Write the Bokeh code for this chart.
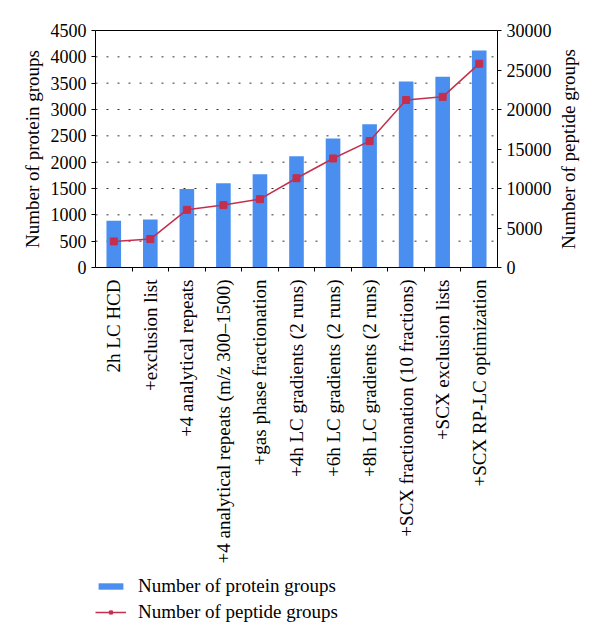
from math import pi
from bokeh.plotting import figure
from bokeh.models import (Range1d, LinearAxis, FixedTicker, Legend, LegendItem,
                          ColumnDataSource, Label)
from bokeh.embed import file_html
from bokeh.resources import INLINE

categories = [
    "2h LC HCD",
    "+exclusion list",
    "+4 analytical repeats",
    "+4 analytical repeats (m/z 300\u20131500)",
    "+gas phase fractionation",
    "+4h LC gradients (2 runs)",
    "+6h LC gradients (2 runs)",
    "+8h LC gradients (2 runs)",
    "+SCX fractionation (10 fractions)",
    "+SCX exclusion lists",
    "+SCX RP-LC optimization",
]
protein_groups = [890, 910, 1490, 1600, 1770, 2110, 2450, 2720, 3530, 3620, 4120]
peptide_groups = [3300, 3600, 7300, 7900, 8650, 11300, 13800, 16000, 21200, 21600, 25800]
protein_ticks = [0, 500, 1000, 1500, 2000, 2500, 3000, 3500, 4000, 4500]
peptide_ticks = [0, 5000, 10000, 15000, 20000, 25000, 30000]

FONT = "Liberation Serif"
BAR = "#4A8FF0"
LINE = "#C42F4E"

# ---- layout (pixels) ----
W, H = 600, 643
LEFT, RIGHT, TOP, BOTTOM = 95, 497, 30, 267   # data-area box
N = len(categories)
PMAX = protein_ticks[-1]
QMAX = peptide_ticks[-1]
px_x = (RIGHT - LEFT) / N
px_y = (BOTTOM - TOP) / PMAX
x0, x1 = 0.5, N + 0.5
x_start = x0 - LEFT / px_x
x_end = x1 + (W - RIGHT) / px_x
y_end = PMAX + TOP / px_y
y_start = -(H - BOTTOM) / px_y
scale = QMAX / PMAX

xs = list(range(1, N + 1))
src = ColumnDataSource(dict(x=xs, prot=protein_groups, pep=peptide_groups))

p = figure(frame_width=W, frame_height=H, output_backend="svg",
           toolbar_location=None,
           x_range=Range1d(x_start, x_end), y_range=Range1d(y_start, y_end),
           min_border=0, min_border_left=0, min_border_right=0,
           min_border_top=0, min_border_bottom=0)
p.extra_y_ranges = {"pep": Range1d(y_start * scale, y_end * scale)}
p.outline_line_color = None
p.xgrid.grid_line_color = None
p.ygrid.grid_line_color = None

# dotted horizontal gridlines at the inner protein ticks
inner = protein_ticks[1:-1]
p.segment(x0=[x0] * len(inner), x1=[x1] * len(inner), y0=inner, y1=inner,
          line_color="#333333", line_dash="2 9", line_width=1)

bars = p.vbar(x="x", top="prot", bottom=0, width=0.4, source=src,
              fill_color=BAR, line_color=None)
ln = p.line(x="x", y="pep", source=src, y_range_name="pep", line_color=LINE,
            line_width=1.5)
sq = p.scatter(x="x", y="pep", source=src, y_range_name="pep", marker="square",
               size=7, fill_color=LINE, line_color=LINE)

# bottom (category) axis pinned at y = 0
xa = p.xaxis[0]
xa.fixed_location = 0
xa.bounds = (x0, x1)
xa.ticker = FixedTicker(ticks=xs, minor_ticks=[i + 0.5 for i in xs[:-1]])
xa.major_label_overrides = {i: c for i, c in zip(xs, categories)}
xa.major_label_orientation = pi / 2
xa.major_tick_out = 0
xa.major_tick_in = 0
xa.minor_tick_out = 4
xa.minor_tick_in = 0
xa.minor_tick_line_color = "black"
xa.major_label_standoff = 8
xa.major_label_text_font_size = "19px"

# top border line
ta = LinearAxis(fixed_location=PMAX, bounds=(x0, x1), ticker=FixedTicker(ticks=[]))
ta.major_tick_line_color = None
ta.minor_tick_line_color = None
p.add_layout(ta, "above")

# left axis
ya = p.yaxis[0]
ya.fixed_location = x0
ya.bounds = (0, PMAX)
ya.ticker = FixedTicker(ticks=protein_ticks)
ya.minor_tick_line_color = None
ya.major_tick_out = 4
ya.major_tick_in = 0
ya.major_label_standoff = 5
ya.major_label_text_font_size = "18px"

# right axis
ra = LinearAxis(y_range_name="pep", ticker=FixedTicker(ticks=peptide_ticks),
                bounds=(0, QMAX), fixed_location=x1)
ra.minor_tick_line_color = None
ra.major_tick_out = 4
ra.major_tick_in = 0
ra.major_label_standoff = 5
ra.major_label_text_font_size = "18px"
p.add_layout(ra, "right")

for ax in (xa, ya, ra, ta):
    ax.axis_line_color = "black"
    ax.axis_line_width = 1
    ax.major_label_text_font = FONT
    ax.major_label_text_color = "black"
for ax in (xa, ya, ra):
    ax.major_tick_line_color = "black"

# axis titles, centred on the data-area height, reading upward
mid = PMAX / 2
for txt, xp in (("Number of protein groups", 32), ("Number of peptide groups", 568)):
    xd = x0 + (xp - LEFT) / px_x
    p.add_layout(Label(x=xd, y=mid, text=txt, angle=pi / 2,
                       text_align="center", text_baseline="middle",
                       text_font=FONT, text_font_size="19px",
                       text_color="black"))

legend = Legend(items=[
    LegendItem(label="Number of protein groups", renderers=[bars]),
    LegendItem(label="Number of peptide groups", renderers=[ln, sq]),
], location=(LEFT, 20), orientation="vertical")
legend.label_text_font = FONT
legend.label_text_font_size = "19px"
legend.label_text_color = "black"
legend.glyph_width = 31
legend.glyph_height = 8
legend.label_height = 20
legend.label_standoff = 12
legend.spacing = 4
legend.padding = 0
legend.margin = 0
legend.border_line_color = None
legend.background_fill_alpha = 0
p.add_layout(legend, "center")

open("out.html", "w").write(file_html(p, INLINE))
